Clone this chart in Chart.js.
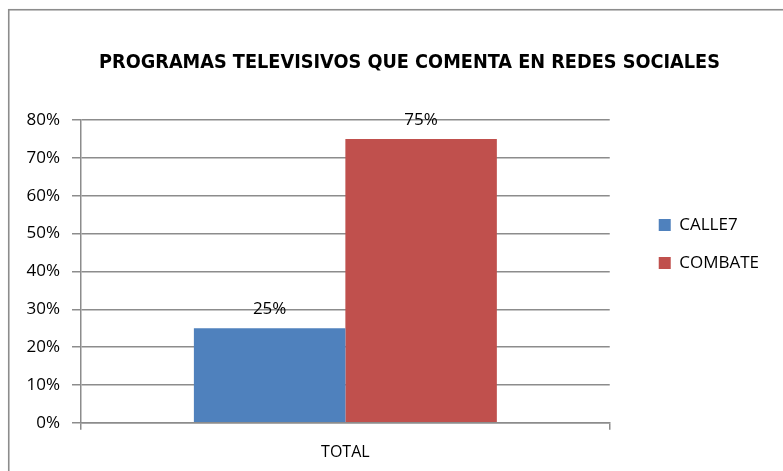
<!DOCTYPE html>
<html>
<head>
<meta charset="utf-8">
<script src="https://cdn.jsdelivr.net/npm/chart.js@4.4.1/dist/chart.umd.min.js"></script>
<style>
  html, body { margin: 0; padding: 0; background: #ffffff; }
  #wrap { width: 783px; height: 471px; }
</style>
</head>
<body>
<div id="wrap"><canvas id="c" width="783" height="471"></canvas></div>
<script>
const categories = ["TOTAL"];
const seriesNames = ["CALLE7", "COMBATE"];
const calle7Values = [25];
const combateValues = [75];
const yTicks = [0, 10, 20, 30, 40, 50, 60, 70, 80];
const titleText = "PROGRAMAS TELEVISIVOS QUE COMENTA EN REDES SOCIALES";

const frame = {
  id: 'frame',
  beforeDraw(chart) {
    const ctx = chart.ctx;
    ctx.save();
    ctx.fillStyle = '#ffffff';
    ctx.fillRect(0, 0, chart.width, chart.height);
    ctx.strokeStyle = '#8c8c8c';
    ctx.lineWidth = 1.6;
    ctx.strokeRect(8.75, 9.75, chart.width + 20, chart.height + 20);
    ctx.restore();
  }
};

const valueLabels = {
  id: 'valueLabels',
  afterDatasetsDraw(chart) {
    const ctx = chart.ctx;
    ctx.save();
    ctx.font = '17px "Open Sans"';
    ctx.fillStyle = '#000000';
    ctx.textAlign = 'center';
    ctx.textBaseline = 'middle';
    chart.data.datasets.forEach((ds, i) => {
      const meta = chart.getDatasetMeta(i);
      meta.data.forEach((bar, j) => {
        ctx.fillText(ds.data[j] + '%', bar.x, bar.y - 19);
      });
    });
    ctx.restore();
  }
};

const boxShift = {
  id: 'boxShift',
  afterLayout(chart) {
    const lg = chart.legend;
    if (lg) {
      const w = lg.right - lg.left;
      lg.left = chart.chartArea.right + 28;
      lg.right = lg.left + w;
    }
    const tt = chart.titleBlock;
    if (tt) {
      const w = tt.right - tt.left;
      tt.left = 409.5 - w / 2;
      tt.right = tt.left + w;
    }
  }
};

Chart.defaults.color = '#000000';
Chart.defaults.font.family = '"Open Sans", sans-serif';

new Chart(document.getElementById('c'), {
  type: 'bar',
  data: {
    labels: categories,
    datasets: [
      { label: seriesNames[0], data: calle7Values, backgroundColor: '#4f81bd', borderWidth: 0 },
      { label: seriesNames[1], data: combateValues, backgroundColor: '#c0504d', borderWidth: 0 }
    ]
  },
  options: {
    responsive: false,
    animation: false,
    devicePixelRatio: 1,
    layout: { padding: { left: 18, right: 42, top: 13, bottom: -4 } },
    categoryPercentage: 0.573,
    barPercentage: 1,
    plugins: {
      tooltip: { enabled: false },
      title: {
        display: true,
        text: titleText,
        color: '#000000',
        font: { family: '"DejaVu Sans Condensed", "Liberation Sans Narrow", sans-serif', size: 19.7, weight: 'bold' },
        padding: { top: 38.5, bottom: 44.9 }
      },
      legend: {
        position: 'right',
        align: 'center',
        labels: {
          boxWidth: 12,
          boxHeight: 12,
          padding: 21,
          color: '#000000',
          font: { size: 17 }
        }
      }
    },
    scales: {
      x: {
        grid: { display: true, drawOnChartArea: false, drawTicks: true, tickLength: 7, color: '#8c8c8c', lineWidth: 1.5, offset: true },
        border: { display: true, color: '#8c8c8c', width: 1.5 },
        ticks: { padding: 13, font: { size: 16 }, color: '#000000' }
      },
      y: {
        min: 0,
        max: 80,
        afterFit(scale) { scale.width = 63; },
        afterBuildTicks(scale) { scale.ticks = yTicks.map(v => ({ value: v })); },
        grid: { color: '#8c8c8c', lineWidth: 1.5, tickLength: 9 },
        border: { display: true, color: '#8c8c8c', width: 1.5 },
        ticks: { padding: 12, font: { size: 17 }, color: '#000000', callback: v => v + '%' }
      }
    }
  },
  plugins: [frame, valueLabels, boxShift]
});
</script>
</body>
</html>
